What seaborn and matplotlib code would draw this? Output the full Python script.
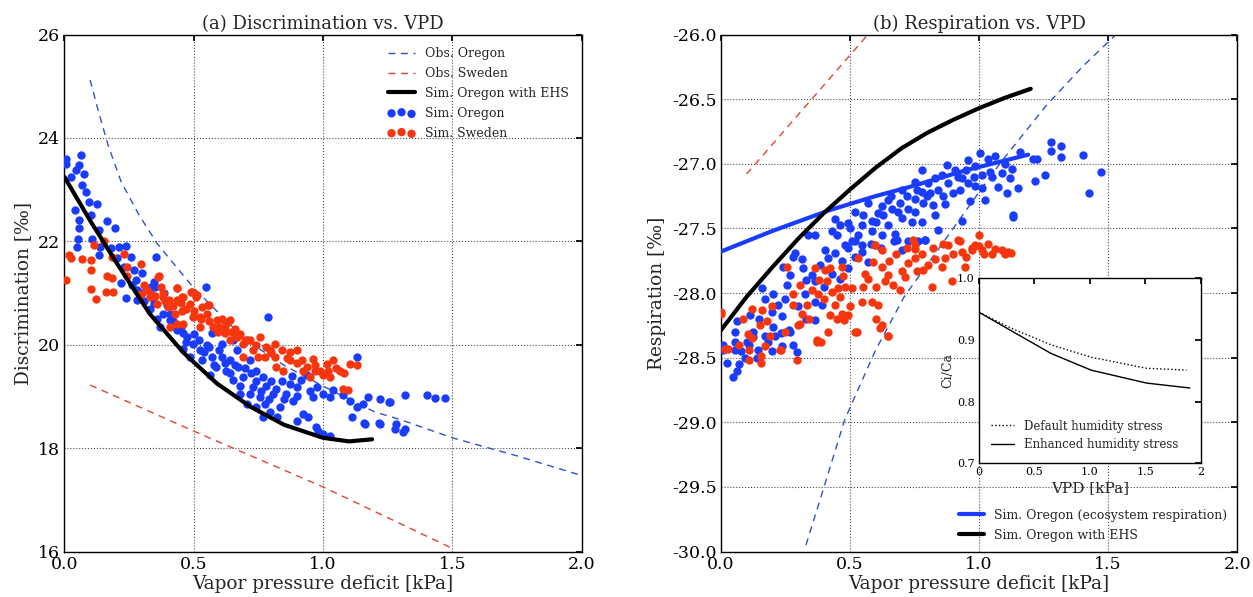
import numpy as np
import seaborn as sns
from matplotlib import pyplot as plt
from matplotlib.lines import Line2D

sns.set_theme(style="whitegrid")
plt.rcParams.update({
    "font.family": ["DejaVu Serif"],
    "axes.edgecolor": "black",
    "axes.linewidth": 1.0,
    "grid.color": "0.3",
    "grid.linestyle": ":",
    "grid.linewidth": 0.8,
    "xtick.direction": "in",
    "ytick.direction": "in",
    "xtick.top": True,
    "ytick.right": True,
    "xtick.major.size": 4,
    "ytick.major.size": 4,
    "xtick.color": "black",
    "ytick.color": "black",
})

BLUE = "#1a3cff"
RED = "#f8360e"

# ---------------- (a) Discrimination vs. VPD ----------------
disc_obs_oregon_x = [0.10, 0.13, 0.17, 0.22, 0.29, 0.36, 0.50, 0.70, 0.85, 1.00, 1.20, 1.30, 1.50, 1.75, 2.00]
disc_obs_oregon_y = [25.12, 24.55, 23.85, 23.15, 22.50, 21.95, 21.10, 20.10, 19.60, 19.20, 18.70, 18.55, 18.20, 17.85, 17.47]

disc_obs_sweden_x = [0.10, 0.50, 1.00, 1.50]
disc_obs_sweden_y = [19.22, 18.33, 17.25, 16.06]

disc_ehs_x = [0.0, 0.10, 0.20, 0.33, 0.46, 0.59, 0.72, 0.85, 1.00, 1.10, 1.19]
disc_ehs_y = [23.25, 22.40, 21.60, 20.60, 19.85, 19.25, 18.80, 18.45, 18.20, 18.13, 18.17]

disc_sim_oregon = [
    (0.005, 23.60), (0.005, 23.50), (0.066, 23.67), (0.057, 23.47), (0.044, 23.38), (0.076, 23.31),
    (0.025, 23.25), (0.070, 23.09), (0.083, 22.96), (0.096, 22.76), (0.125, 22.73), (0.040, 22.60),
    (0.057, 22.42), (0.057, 22.25), (0.102, 22.50), (0.166, 22.39), (0.195, 22.25), (0.053, 22.05),
    (0.048, 21.89), (0.108, 22.05), (0.134, 22.22), (0.140, 21.89), (0.134, 21.73), (0.179, 21.87),
    (0.211, 21.89), (0.237, 21.90), (0.205, 21.67), (0.257, 21.69), (0.230, 21.50), (0.270, 21.45),
    (0.302, 21.38), (0.347, 21.22), (0.353, 21.69), (0.276, 21.26), (0.218, 21.20), (0.334, 21.12),
    (0.237, 20.90), (0.385, 21.00), (0.546, 21.12), (0.282, 20.87), (0.347, 20.81),
    (0.351, 21.12), (0.789, 20.54), (0.370, 20.34), (0.408, 20.47), (0.434, 20.28), (0.473, 20.15),
    (0.499, 20.02), (0.525, 19.89), (0.550, 19.99), (0.531, 19.70), (0.570, 19.76), (0.608, 19.76),
    (0.640, 19.70), (0.666, 19.89), (0.705, 20.09), (0.670, 19.57), (0.718, 19.70), (0.627, 19.50),
    (0.563, 19.41), (0.653, 19.31), (0.692, 19.37), (0.743, 19.50), (0.769, 19.37), (0.731, 19.18),
    (0.756, 18.99), (0.776, 18.86), (0.808, 19.05), (0.834, 18.79), (0.795, 18.70), (0.821, 18.60),
    (0.859, 19.05), (0.872, 19.24), (0.898, 19.18), (0.917, 19.31), (0.937, 19.41), (0.885, 18.92),
    (0.924, 18.66), (0.943, 18.60), (0.898, 18.53), (0.963, 18.99), (0.976, 19.18), (1.001, 19.05),
    (1.027, 18.99), (1.040, 19.12), (1.079, 19.02), (1.104, 18.92), (1.130, 18.79), (1.156, 18.86),
    (1.130, 19.76), (1.175, 18.99), (1.220, 18.95), (1.259, 18.89), (1.317, 19.02), (1.401, 19.02),
    (1.111, 18.60), (1.163, 18.47), (1.220, 18.46), (1.284, 18.47), (1.278, 18.37), (1.317, 18.37),
    (0.982, 18.34), (1.001, 18.27), (1.027, 18.24), (0.357, 20.50), (0.588, 19.57), (0.460, 19.92),
    (0.486, 19.76), (0.679, 19.05), (0.718, 19.05), (0.705, 18.86), (0.743, 18.79), (0.769, 18.60),
    (0.975, 18.41), (0.344, 20.95), (0.396, 20.76), (0.460, 20.22), (0.570, 20.22), (0.608, 20.02),
    (0.653, 20.09), (1.432, 18.96), (1.470, 18.96), (1.256, 18.89), (1.310, 18.31), (1.218, 18.48),
    (1.157, 18.48),
    (0.380, 20.60), (0.420, 20.45), (0.450, 20.35), (0.500, 20.20), (0.520, 20.10), (0.560, 19.95),
    (0.600, 19.90), (0.620, 19.65), (0.660, 19.60), (0.700, 19.55), (0.720, 19.45), (0.680, 19.20),
    (0.740, 19.30), (0.780, 19.20), (0.800, 19.30), (0.820, 19.15), (0.850, 18.95), (0.760, 19.10),
    (0.790, 18.95), (0.840, 19.30), (0.900, 19.00), (0.950, 19.10), (0.880, 19.40), (0.640, 19.45),
    (0.580, 19.60), (0.540, 19.85), (0.470, 20.05), (0.410, 20.60), (0.330, 20.70), (0.310, 20.85),
    (0.280, 21.05), (0.260, 21.15), (0.300, 21.00),
]

disc_sim_sweden = [
    (0.018, 21.73), (0.025, 21.67), (0.005, 21.25), (0.070, 21.65), (0.102, 21.64), (0.115, 21.92),
    (0.153, 22.00), (0.105, 21.45), (0.186, 21.70), (0.230, 21.76), (0.166, 21.32), (0.186, 21.29),
    (0.105, 21.08), (0.160, 21.02), (0.190, 21.02), (0.121, 20.89), (0.243, 21.51), (0.243, 21.32),
    (0.298, 21.57), (0.308, 21.15), (0.334, 20.99), (0.366, 21.32), (0.372, 21.12), (0.437, 21.09),
    (0.456, 20.93), (0.488, 21.02), (0.514, 20.96), (0.559, 20.77), (0.405, 20.86), (0.295, 20.99),
    (0.363, 21.31), (0.434, 21.09), (0.331, 20.92), (0.357, 20.79), (0.383, 20.92), (0.402, 20.73),
    (0.428, 20.60), (0.454, 20.66), (0.460, 20.92), (0.492, 21.02), (0.511, 20.92), (0.486, 20.79),
    (0.531, 20.73), (0.499, 20.54), (0.550, 20.60), (0.460, 20.41), (0.434, 20.41), (0.408, 20.34),
    (0.525, 20.34), (0.557, 20.76), (0.576, 20.34), (0.589, 20.47), (0.608, 20.50), (0.627, 20.41),
    (0.640, 20.47), (0.595, 20.25), (0.621, 20.22), (0.647, 20.25), (0.640, 20.09), (0.666, 20.15),
    (0.692, 20.02), (0.718, 20.09), (0.756, 20.15), (0.731, 19.89), (0.750, 19.76), (0.776, 19.76),
    (0.795, 19.89), (0.814, 20.02), (0.814, 19.76), (0.840, 19.89), (0.872, 19.86), (0.898, 19.89),
    (0.872, 19.70), (0.847, 19.50), (0.820, 19.57), (0.924, 19.50), (0.937, 19.57), (0.963, 19.73),
    (0.969, 19.50), (0.988, 19.50), (1.014, 19.63), (1.040, 19.70), (1.001, 19.41), (1.027, 19.37),
    (1.066, 19.50), (1.104, 19.63), (1.130, 19.60), (1.079, 19.15), (1.098, 19.12), (0.950, 19.37),
    (0.525, 20.54), (0.434, 20.86), (0.692, 19.76),
    (0.320, 21.05), (0.350, 20.95), (0.390, 20.85), (0.420, 20.75), (0.470, 20.70), (0.500, 20.65),
    (0.530, 20.50), (0.560, 20.45), (0.600, 20.35), (0.620, 20.30), (0.660, 20.30), (0.680, 20.20),
    (0.700, 20.10), (0.740, 20.00), (0.780, 19.95), (0.800, 19.85), (0.860, 19.75), (0.900, 19.65),
    (0.920, 19.70), (0.970, 19.60), (1.020, 19.50), (1.050, 19.55), (1.080, 19.45), (0.450, 20.80),
    (0.380, 21.00),
]

# ---------------- (b) Respiration vs. VPD ----------------
resp_obs_sweden_x = [0.10, 0.30, 0.57]
resp_obs_sweden_y = [-27.08, -26.62, -26.00]

resp_obs_oregon_x = [0.33, 0.40, 0.48, 0.60, 0.71, 0.85, 1.00, 1.08, 1.26, 1.40, 1.53]
resp_obs_oregon_y = [-29.95, -29.50, -28.98, -28.44, -28.03, -27.64, -27.22, -27.00, -26.55, -26.25, -26.00]

resp_eco_x = [0.0, 0.20, 0.42, 0.60, 0.73, 0.95, 1.19]
resp_eco_y = [-27.68, -27.52, -27.36, -27.25, -27.18, -27.05, -26.93]

resp_ehs_x = [0.0, 0.10, 0.20, 0.30, 0.40, 0.50, 0.60, 0.70, 0.80, 0.90, 1.00, 1.10, 1.20]
resp_ehs_y = [-28.29, -28.03, -27.80, -27.58, -27.38, -27.20, -27.03, -26.88, -26.76, -26.66, -26.57, -26.49, -26.42]

resp_sim_oregon = [
    (1.159, -26.91), (1.210, -26.96), (1.004, -26.92), (0.959, -26.97), (1.036, -26.96), (1.062, -26.94),
    (1.100, -27.00), (1.126, -27.04), (0.985, -27.02), (1.010, -27.09), (1.042, -27.06), (1.088, -27.07),
    (1.120, -27.11), (0.875, -27.01), (0.907, -27.05), (0.933, -27.11), (0.959, -27.15), (0.985, -27.17),
    (1.010, -27.19), (1.075, -27.18), (1.152, -27.19), (1.107, -27.23), (1.023, -27.28), (0.965, -27.29),
    (0.868, -27.31), (0.900, -27.23), (0.926, -27.20), (0.778, -27.05), (0.752, -27.14), (0.804, -27.15),
    (0.830, -27.11), (0.855, -27.09), (0.778, -27.22), (0.810, -27.23), (0.752, -27.27), (0.785, -27.30),
    (0.823, -27.32), (0.830, -27.40), (0.933, -27.44), (1.133, -27.40), (0.726, -27.35), (0.694, -27.30),
    (0.649, -27.28), (0.688, -27.37), (0.752, -27.37), (0.778, -27.45), (0.739, -27.45), (0.700, -27.42),
    (0.662, -27.35), (0.623, -27.33), (0.610, -27.38), (0.585, -27.44), (0.649, -27.47), (0.675, -27.54),
    (0.623, -27.55), (0.585, -27.52), (0.546, -27.47), (0.520, -27.37), (0.533, -27.55), (0.494, -27.46),
    (0.442, -27.43), (0.429, -27.52), (0.462, -27.47), (0.507, -27.60), (0.546, -27.63), (0.481, -27.63),
    (0.365, -27.55), (0.404, -27.67), (0.339, -27.55), (0.288, -27.69), (0.726, -27.60), (0.765, -27.60),
    (0.791, -27.59), (0.842, -27.51),
    (0.010, -28.40), (0.055, -28.30), (0.062, -28.22), (0.113, -28.17), (0.126, -28.30), (0.158, -27.96),
    (0.171, -28.05), (0.204, -28.01), (0.223, -28.09), (0.236, -28.18), (0.255, -27.94), (0.281, -27.72),
    (0.242, -27.80), (0.268, -27.86), (0.313, -27.74), (0.320, -27.81), (0.352, -27.86), (0.365, -27.91),
    (0.326, -28.01), (0.365, -28.07), (0.391, -28.09), (0.384, -27.78), (0.417, -27.73), (0.442, -27.69),
    (0.494, -27.65), (0.520, -27.60), (0.546, -27.68), (0.572, -27.76), (0.494, -27.81), (0.462, -27.89),
    (0.365, -28.21), (0.210, -28.33), (0.236, -28.41), (0.184, -28.38), (0.268, -28.30), (0.294, -28.46),
    (0.146, -28.44), (0.100, -28.38), (0.055, -28.44), (0.681, -27.59), (0.752, -27.60), (0.791, -27.59),
    (0.700, -27.67),
    (0.049, -28.65), (0.064, -28.60), (0.026, -28.54), (0.095, -28.50), (0.140, -28.50), (0.010, -28.44),
    (0.057, -28.38), (0.110, -28.40), (0.126, -28.34), (0.172, -28.33), (0.233, -28.31), (0.264, -28.29),
    (0.202, -28.26),
    (1.471, -27.06), (1.425, -27.23), (1.402, -26.93), (1.279, -26.83), (1.318, -26.86), (1.318, -26.95),
    (1.279, -26.90), (1.256, -27.09), (1.218, -27.13), (1.225, -26.96), (1.133, -27.41),
    (0.450, -27.55), (0.500, -27.50), (0.550, -27.40), (0.570, -27.30), (0.600, -27.45), (0.630, -27.40),
    (0.660, -27.25), (0.700, -27.20), (0.720, -27.25), (0.760, -27.20), (0.800, -27.25), (0.840, -27.20),
    (0.860, -27.25), (0.880, -27.15), (0.920, -27.10), (0.950, -27.05), (0.980, -27.10), (1.050, -27.10),
    (0.670, -27.60), (0.620, -27.65), (0.580, -27.62), (0.520, -27.72), (0.470, -27.75), (0.430, -27.85),
    (0.400, -27.95), (0.330, -27.90), (0.300, -28.10), (0.250, -28.05), (0.200, -28.15), (0.150, -28.20),
    (0.080, -28.45), (0.330, -28.20), (0.280, -28.40), (0.200, -28.45), (0.070, -28.55),
]

resp_sim_sweden = [
    (0.000, -28.15), (0.030, -28.43), (0.107, -28.32), (0.088, -28.20), (0.120, -28.12), (0.158, -28.13),
    (0.178, -28.22), (0.152, -28.25), (0.191, -28.33), (0.171, -28.41), (0.229, -28.44), (0.255, -27.80),
    (0.281, -28.01), (0.281, -28.09), (0.307, -27.94), (0.313, -28.16), (0.307, -28.24), (0.333, -28.09),
    (0.352, -27.98), (0.365, -27.81), (0.371, -28.38), (0.378, -28.01), (0.410, -27.91), (0.404, -27.82),
    (0.423, -27.81), (0.430, -27.99), (0.423, -28.17), (0.442, -28.09), (0.455, -27.96), (0.475, -27.87),
    (0.468, -27.80), (0.462, -28.03), (0.416, -28.30), (0.468, -28.16), (0.494, -28.17), (0.507, -27.96),
    (0.520, -28.30), (0.533, -27.73), (0.546, -28.07), (0.572, -27.89), (0.585, -28.07), (0.597, -27.63),
    (0.590, -27.76), (0.610, -28.09), (0.623, -27.80), (0.636, -27.91), (0.649, -27.86), (0.649, -28.33),
    (0.668, -27.94), (0.694, -27.98), (0.623, -28.25), (0.700, -27.83), (0.726, -27.77), (0.713, -27.88),
    (0.752, -27.73), (0.759, -27.83), (0.752, -27.66), (0.784, -27.82), (0.804, -27.78), (0.817, -27.95),
    (0.830, -27.74), (0.855, -27.80), (0.868, -27.73), (0.894, -27.91), (0.926, -27.60), (0.933, -27.68),
    (0.946, -27.80), (0.972, -27.65), (0.998, -27.64),
    (0.746, -27.59), (0.752, -27.63), (0.881, -27.63), (0.920, -27.59), (0.998, -27.55), (0.985, -27.63),
    (1.036, -27.62), (1.062, -27.66), (1.088, -27.67), (1.113, -27.68), (0.972, -27.67), (1.010, -27.67),
    (0.597, -27.63), (0.623, -27.67), (1.125, -27.69),
    (0.000, -28.16), (0.018, -28.43), (0.072, -28.40), (0.110, -28.44), (0.110, -28.52), (0.156, -28.54),
    (0.156, -28.49), (0.233, -28.44), (0.295, -28.52), (0.372, -28.36), (0.387, -28.38), (0.526, -28.30),
    (0.618, -28.27), (0.648, -28.33), (0.479, -28.21),
    (0.250, -28.30), (0.200, -28.10), (0.340, -28.20), (0.400, -28.05), (0.450, -28.20), (0.500, -28.10),
    (0.550, -27.95), (0.600, -27.95), (0.650, -27.75), (0.680, -27.70), (0.720, -27.65), (0.780, -27.70),
    (0.820, -27.65), (0.860, -27.62), (0.900, -27.70), (0.950, -27.72), (1.020, -27.70), (1.050, -27.70),
    (1.100, -27.70), (0.380, -27.90), (0.480, -27.95), (0.560, -27.85), (0.600, -28.20), (0.300, -28.25),
    (0.120, -28.35),
]

# inset: Ci/Ca vs VPD
ci_default_x = [0.0, 0.29, 0.65, 1.01, 1.51, 1.87]
ci_default_y = [0.945, 0.919, 0.892, 0.872, 0.854, 0.851]
ci_enhanced_x = [0.0, 0.29, 0.65, 1.01, 1.51, 1.90]
ci_enhanced_y = [0.945, 0.915, 0.878, 0.851, 0.830, 0.822]


def scatter(ax, pts, color, label):
    arr = np.array(pts)
    sns.scatterplot(x=arr[:, 0], y=arr[:, 1], color=color, s=36, linewidth=0,
                    ax=ax, label=label, zorder=3)


fig = plt.figure(figsize=(12.53, 5.97), dpi=100)
ax_a = fig.add_axes([0.0513, 0.0762, 0.4129, 0.866])
ax_b = fig.add_axes([0.5752, 0.0762, 0.4123, 0.866])

# ---- panel (a)
sns.lineplot(x=disc_obs_oregon_x, y=disc_obs_oregon_y, ax=ax_a, color="#3050d0", lw=1,
             linestyle=(0, (5, 4)), label="Obs. Oregon", errorbar=None)
sns.lineplot(x=disc_obs_sweden_x, y=disc_obs_sweden_y, ax=ax_a, color="#e04535", lw=1,
             linestyle=(0, (5, 4)), label="Obs. Sweden", errorbar=None)
scatter(ax_a, disc_sim_oregon, BLUE, "Sim. Oregon")
scatter(ax_a, disc_sim_sweden, RED, "Sim. Sweden")
sns.lineplot(x=disc_ehs_x, y=disc_ehs_y, ax=ax_a, color="black", lw=3,
             label="Sim. Oregon with EHS", errorbar=None, zorder=4)

ax_a.set_xlim(0, 2)
ax_a.set_ylim(16, 26)
ax_a.set_xticks([0.0, 0.5, 1.0, 1.5, 2.0])
ax_a.set_yticks([16, 18, 20, 22, 24, 26])
ax_a.set_xlabel("Vapor pressure deficit [kPa]", fontsize=13.3, labelpad=2)
ax_a.set_ylabel("Discrimination [‰]", fontsize=13.3, labelpad=4)
ax_a.set_title("(a) Discrimination vs. VPD", fontsize=13, pad=4)
ax_a.tick_params(labelsize=12.5, pad=3)

handles, labels = ax_a.get_legend_handles_labels()
order = ["Obs. Oregon", "Obs. Sweden", "Sim. Oregon with EHS", "Sim. Oregon", "Sim. Sweden"]
hmap = dict(zip(labels, handles))
ax_a.legend([hmap[k] for k in order], order, loc="upper right", frameon=False,
            fontsize=9, scatterpoints=3, handlelength=2.2, borderaxespad=0.6,
            labelspacing=0.55)

# ---- panel (b)
sns.lineplot(x=resp_obs_sweden_x, y=resp_obs_sweden_y, ax=ax_b, color="#e04535", lw=1,
             linestyle=(0, (5, 4)), legend=False, errorbar=None)
sns.lineplot(x=resp_obs_oregon_x, y=resp_obs_oregon_y, ax=ax_b, color="#3050d0", lw=1,
             linestyle=(0, (5, 4)), legend=False, errorbar=None)
scatter(ax_b, resp_sim_oregon, BLUE, None)
scatter(ax_b, resp_sim_sweden, RED, None)
sns.lineplot(x=resp_eco_x, y=resp_eco_y, ax=ax_b, color=BLUE, lw=3,
             legend=False, errorbar=None, zorder=4)
sns.lineplot(x=resp_ehs_x, y=resp_ehs_y, ax=ax_b, color="black", lw=3,
             legend=False, errorbar=None, zorder=4)

ax_b.set_xlim(0, 2)
ax_b.set_ylim(-30, -26)
ax_b.set_xticks([0.0, 0.5, 1.0, 1.5, 2.0])
ax_b.set_yticks(np.arange(-30, -25.9, 0.5))
ax_b.set_yticklabels(["%.1f" % v for v in np.arange(-30, -25.9, 0.5)])
ax_b.set_xlabel("Vapor pressure deficit [kPa]", fontsize=13.3, labelpad=2)
ax_b.set_ylabel("Respiration [‰]", fontsize=13.3, labelpad=4)
ax_b.set_title("(b) Respiration vs. VPD", fontsize=13, pad=4)
ax_b.tick_params(labelsize=12.5, pad=3)
b_handles = [Line2D([], [], color=BLUE, lw=3), Line2D([], [], color="black", lw=3)]
ax_b.legend(b_handles, ["Sim. Oregon (ecosystem respiration)", "Sim. Oregon with EHS"],
            loc="lower right", frameon=False, fontsize=9, handlelength=2.0,
            borderaxespad=0.4, labelspacing=0.55)

# ---- inset
ax_in = fig.add_axes([0.7812, 0.224, 0.1773, 0.31])
ax_in.set_facecolor("white")
ax_in.grid(False)
sns.lineplot(x=ci_default_x, y=ci_default_y, ax=ax_in, color="black", lw=1,
             linestyle=":", label="Default humidity stress", errorbar=None)
sns.lineplot(x=ci_enhanced_x, y=ci_enhanced_y, ax=ax_in, color="black", lw=1,
             label="Enhanced humidity stress", errorbar=None)
ax_in.set_xlim(0, 2)
ax_in.set_ylim(0.7, 1.0)
ax_in.set_xticks([0, 0.5, 1.0, 1.5, 2])
ax_in.set_xticklabels(["0", "0.5", "1.0", "1.5", "2"])
ax_in.set_yticks([0.7, 0.8, 0.9, 1.0])
ax_in.set_yticklabels(["0.7", "0.8", "0.9", "1.0"])
ax_in.tick_params(labelsize=8, pad=3, length=4)
ax_in.set_xlabel("VPD [kPa]", fontsize=11, labelpad=3)
ax_in.set_ylabel("Ci/Ca", fontsize=9, labelpad=2)
ax_in.legend(loc="lower left", frameon=False, fontsize=8.5, handlelength=2.0,
             borderaxespad=0.6)

fig.savefig("out.png", dpi=100, facecolor="white")
